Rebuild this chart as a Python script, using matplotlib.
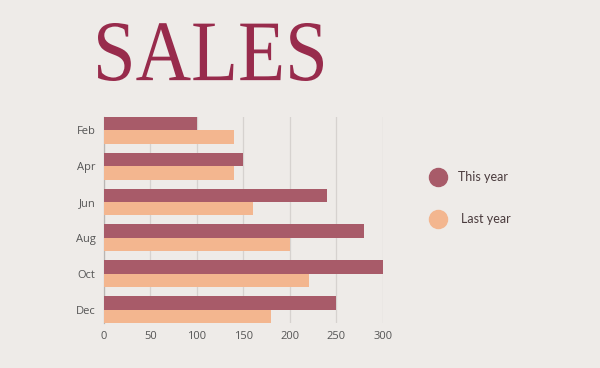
import matplotlib.pyplot as plt
from matplotlib.lines import Line2D
from matplotlib.textpath import TextPath
from matplotlib.patches import PathPatch
from matplotlib.font_manager import FontProperties
from matplotlib.transforms import Affine2D
import numpy as np

months = ["Feb", "Apr", "Jun", "Aug", "Oct", "Dec"]
this_year = [100, 150, 240, 280, 300, 250]
last_year = [140, 140, 160, 200, 220, 180]
series_names = ["This year", "Last year"]
series_colors = ["#a85b69", "#f3b68f"]
x_ticks = [0, 50, 100, 150, 200, 250, 300]

bg = "#eeebe8"
W, H = 600, 368

fig = plt.figure(figsize=(6, 3.68), dpi=100, facecolor=bg)
ax = fig.add_axes([0.1733, 0.1223, 0.465, 0.56])
ax.set_facecolor(bg)

y = np.arange(len(months))
h = 0.375
ax.barh(y - h / 2, this_year, height=h, color=series_colors[0], zorder=3)
ax.barh(y + h / 2, last_year, height=h, color=series_colors[1], zorder=3)

ax.set_xlim(0, 300)
ax.set_ylim(len(months) - 1 + h, -h)
ax.set_xticks(x_ticks)
ax.set_yticks(y)
ax.set_yticklabels(months)
ax.tick_params(length=0, labelsize=8, labelcolor="#555555", pad=6)
for lab in ax.get_xticklabels() + ax.get_yticklabels():
    lab.set_family("Open Sans")

ax.grid(axis="x", color="#d6d2cf", linewidth=0.9, zorder=0)
for s in ["top", "right", "bottom"]:
    ax.spines[s].set_visible(False)
ax.spines["left"].set_color("#b9b5b2")
ax.spines["left"].set_linewidth(0.9)

# title as a path so it can be fitted to the box of the original lettering
tp = TextPath((0, 0), "SALES", size=1, prop=FontProperties(family="Liberation Serif"))
ext = tp.get_extents()
x0, x1, y0, y1 = 98, 323, 23, 81  # pixel box, y from top
tr = (Affine2D()
      .translate(-ext.x0, -ext.y0)
      .scale((x1 - x0) / ext.width / W, (y1 - y0) / ext.height / H)
      .translate(x0 / W, 1 - y1 / H))
fig.add_artist(PathPatch(tp, transform=tr + fig.transFigure,
                         facecolor="#982b4c", edgecolor="none"))

# legend, drawn by hand
leg_y = [1 - 177 / H, 1 - 219 / H]
text_x = [458 / W, 461 / W]
for name, col, yy, tx in zip(series_names, series_colors, leg_y, text_x):
    fig.add_artist(Line2D([438 / W], [yy], marker="o", markersize=13,
                          color=col, linestyle="none", transform=fig.transFigure))
    fig.text(tx, yy, name, ha="left", va="center", fontsize=9,
             family="Lato", color="#4a3b3d")

fig.savefig("out.png", dpi=100, facecolor=bg)
